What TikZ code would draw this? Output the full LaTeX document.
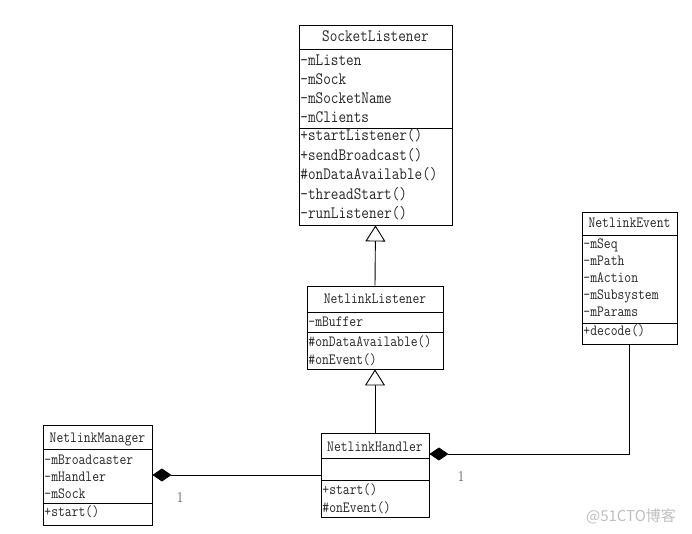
\documentclass[tikz,border=0pt]{standalone}
\usepackage{fontspec}
\newfontfamily\wmfont{Noto Sans CJK SC}
\usetikzlibrary{arrows.meta}
\newcommand\bigtxt[1]{\scalebox{0.85}[1]{\fontsize{17.4}{20}\selectfont\ttfamily #1}}
\newcommand\smalltxt[1]{\scalebox{0.85}[1]{\fontsize{15.6}{18}\selectfont\ttfamily #1}}

\begin{document}
\begin{tikzpicture}[x=1pt, y=-1pt, line width=0.9pt,
    cls/.style={draw=black, inner sep=0pt},
    big/.style={text=black!85, inner sep=0pt, anchor=base west},
    small/.style={text=black!85, inner sep=0pt, anchor=base west},
    inh/.style={-{Triangle[open, length=16pt, width=20pt, fill=white]}},
    comp/.style={-{Diamond[length=19pt, width=13pt]}}]
    \useasboundingbox (0,0) rectangle (692,534);

    % SocketListener
    \node[cls, minimum width=153, minimum height=200] (sock) at (375.5,125) {};
    \draw (sock.west |- 0,49) -- (sock.east |- 0,49);
    \draw (sock.west |- 0,128) -- (sock.east |- 0,128);
    \node[big, anchor=base] (sockt) at (375.5,42) {\bigtxt{SocketListener}};
    \foreach \s [count=\i] in {-mListen,-mSock,-mSocketName,-mClients}
        \node[big] (sa\i) at (300,47+18.8*\i) {\bigtxt{\s}};
    \foreach \s [count=\i] in {+startListener(),+sendBroadcast(),\#onDataAvailable(),-threadStart(),-runListener()}
        \node[big] (sm\i) at (300,121.6+19.4*\i) {\bigtxt{\s}};

    % NetlinkListener
    \node[cls, minimum width=136, minimum height=83] (listen) at (375,327.5) {};
    \draw (listen.west |- 0,312) -- (listen.east |- 0,312);
    \draw (listen.west |- 0,332) -- (listen.east |- 0,332);
    \node[small, anchor=base] (listent) at (375,303) {\smalltxt{NetlinkListener}};
    \node[small] (la1) at (308,326) {\smalltxt{-mBuffer}};
    \node[small] (lm1) at (308,346) {\smalltxt{\#onDataAvailable()}};
    \node[small] (lm2) at (308,364) {\smalltxt{\#onEvent()}};

    % NetlinkHandler
    \node[cls, minimum width=108, minimum height=84] (handler) at (375,475) {};
    \draw (handler.west |- 0,458) -- (handler.east |- 0,458);
    \draw (handler.west |- 0,480) -- (handler.east |- 0,480);
    \node[small, anchor=base] (handlert) at (375,451) {\smalltxt{NetlinkHandler}};
    \node[small] (hm1) at (322,494) {\smalltxt{+start()}};
    \node[small] (hm2) at (322,512) {\smalltxt{\#onEvent()}};

    % NetlinkManager
    \node[cls, minimum width=109, minimum height=100] (manager) at (97.5,475) {};
    \draw (manager.west |- 0,449) -- (manager.east |- 0,449);
    \draw (manager.west |- 0,503) -- (manager.east |- 0,503);
    \node[small, anchor=base] (managert) at (97.5,442) {\smalltxt{NetlinkManager}};
    \foreach \s [count=\i] in {-mBroadcaster,-mHandler,-mSock}
        \node[small] (ma\i) at (44,447+17*\i) {\smalltxt{\s}};
    \node[small] (mm1) at (44,516) {\smalltxt{+start()}};

    % NetlinkEvent
    \node[cls, minimum width=95, minimum height=132] (event) at (629.5,278) {};
    \draw (event.west |- 0,235) -- (event.east |- 0,235);
    \draw (event.west |- 0,323) -- (event.east |- 0,323);
    \node[small, anchor=base] (eventt) at (629.5,228) {\smalltxt{NetlinkEvent}};
    \foreach \s [count=\i] in {-mSeq,-mPath,-mAction,-mSubsystem,-mParams}
        \node[small] (ea\i) at (583,230.8+17.2*\i) {\smalltxt{\s}};
    \node[small] (em1) at (583,335) {\smalltxt{+decode()}};

    % connectors
    \draw[inh] (listen.north) -- (sock.south);
    \draw[inh] (handler.north) -- (listen.south);
    \draw[comp] (handler.west) -- (manager.east);
    \draw[comp] (event.south) |- ([yshift=21pt]handler.east);
    \node[font=\fontsize{15}{17}\selectfont, text=black!70] (one1) at (180,498) {1};
    \node[font=\fontsize{15}{17}\selectfont, text=black!70] (one2) at (461,477) {1};

    \node[font=\wmfont\fontsize{15}{17}\selectfont, text=black!25] (wm) at (631,516) {@51CTO博客};
\end{tikzpicture}
\end{document}
